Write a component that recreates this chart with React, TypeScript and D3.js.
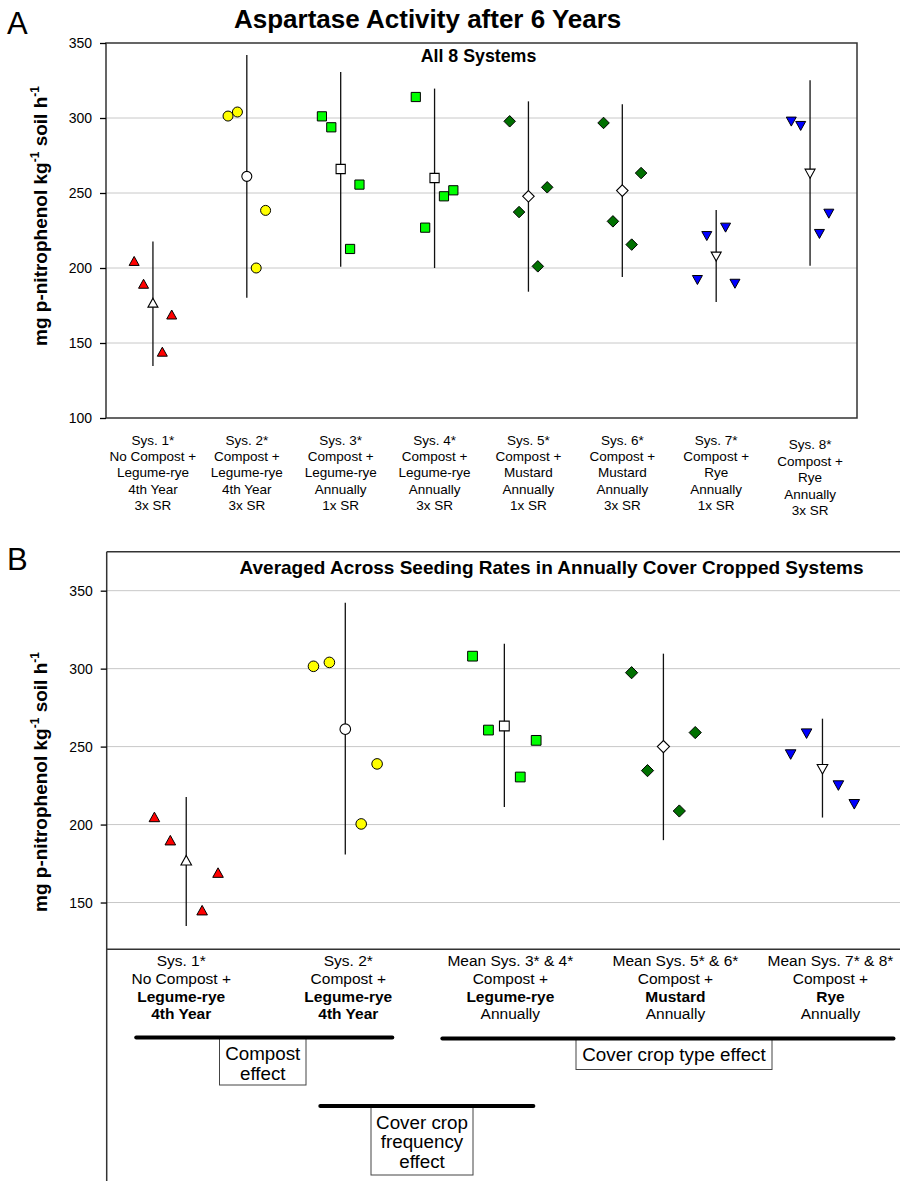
import React, { useRef, useEffect } from "react";
import * as d3 from "d3";

const FONT = "'Liberation Sans', Arial, Helvetica, sans-serif";

// ---- panel A: all 8 systems ----
const systemsA = ["Sys1", "Sys2", "Sys3", "Sys4", "Sys5", "Sys6", "Sys7", "Sys8"];
const labelsA = [
  ["Sys. 1*", "No Compost +", "Legume-rye", "4th Year", "3x SR"],
  ["Sys. 2*", "Compost +", "Legume-rye", "4th Year", "3x SR"],
  ["Sys. 3*", "Compost +", "Legume-rye", "Annually", "1x SR"],
  ["Sys. 4*", "Compost +", "Legume-rye", "Annually", "3x SR"],
  ["Sys. 5*", "Compost +", "Mustard", "Annually", "1x SR"],
  ["Sys. 6*", "Compost +", "Mustard", "Annually", "3x SR"],
  ["Sys. 7*", "Compost +", "Rye", "Annually", "1x SR"],
  ["Sys. 8*", "Compost +", "Rye", "Annually", "3x SR"],
];
// four field replicates per system
const repsA = [
  [204.7, 189.5, 144.2, 169.0],
  [301.3, 304.0, 200.0, 238.4],
  [301.1, 293.8, 212.7, 255.6],
  [314.0, 226.9, 247.8, 251.8],
  [297.8, 237.3, 201.1, 253.8],
  [296.7, 231.1, 215.6, 263.3],
  [192.0, 221.3, 226.9, 189.5],
  [297.6, 294.7, 222.7, 236.2],
];
const meansA = [176.9, 261.1, 266.0, 260.0, 247.8, 251.6, 207.6, 262.9];
const lowA = [134.7, 180.2, 200.9, 200.0, 184.2, 194.0, 177.3, 201.5];
const highA = [217.6, 342.0, 330.7, 319.6, 311.1, 309.1, 238.7, 325.1];
const shapesA = ["up", "circle", "square", "square", "diamond", "diamond", "down", "down"];
const colorsA = ["#ff0000", "#ffff00", "#00ff00", "#00ff00", "#007000", "#007000", "#0000ff", "#0000ff"];
const ticksA = [100, 150, 200, 250, 300, 350];

// ---- panel B: averaged across seeding rates ----
const groupsB = ["Sys1", "Sys2", "Sys34", "Sys56", "Sys78"];
const labelsB = [
  [["Sys. 1*", false], ["No Compost +", false], ["Legume-rye", true], ["4th Year", true]],
  [["Sys. 2*", false], ["Compost +", false], ["Legume-rye", true], ["4th Year", true]],
  [["Mean Sys. 3* & 4*", false], ["Compost +", false], ["Legume-rye", true], ["Annually", false]],
  [["Mean Sys. 5* & 6*", false], ["Compost +", false], ["Mustard", true], ["Annually", false]],
  [["Mean Sys. 7* & 8*", false], ["Compost +", false], ["Rye", true], ["Annually", false]],
];
const repsB = [
  [204.9, 190.0, 145.1, 169.2],
  [301.5, 304.0, 200.4, 238.9],
  [308.0, 260.6, 230.5, 254.0],
  [297.4, 234.6, 208.7, 259.0],
  [244.9, 258.3, 225.0, 213.0],
];
const meansB = [177.1, 261.2, 263.2, 250.0, 235.5];
const lowB = [135.0, 180.8, 211.3, 190.0, 204.5];
const highB = [217.7, 342.3, 315.9, 309.6, 267.9];
const shapesB = ["up", "circle", "square", "diamond", "down"];
const colorsB = ["#ff0000", "#ffff00", "#00ff00", "#007000", "#0000ff"];
const ticksB = [150, 200, 250, 300, 350];

// contrasts drawn under panel B
const effects = [
  { lines: ["Compost", "effect"], from: "Sys1", to: "Sys2" },
  { lines: ["Cover crop type effect"], from: "Sys34", to: "Sys78" },
  { lines: ["Cover crop", "frequency", "effect"], from: "Sys2", to: "Sys34" },
];

function shapePath(kind, s) {
  if (kind === "circle") {
    return `M${-s},0a${s},${s} 0 1,0 ${2 * s},0a${s},${s} 0 1,0 ${-2 * s},0Z`;
  }
  if (kind === "up") return `M0,${-s * 0.9}L${s},${s * 0.9}L${-s},${s * 0.9}Z`;
  if (kind === "down") return `M0,${s * 0.9}L${s},${-s * 0.9}L${-s},${-s * 0.9}Z`;
  if (kind === "square") {
    const h = s * 0.92;
    return `M${-h},${-h}H${h}V${h}H${-h}Z`;
  }
  const d = s * 1.15;
  return `M0,${-d}L${d},0L0,${d}L${-d},0Z`;
}

function yLabel(g, x, y) {
  const t = g.append("text")
    .attr("transform", `translate(${x},${y}) rotate(-90)`)
    .attr("text-anchor", "middle")
    .attr("font-family", FONT)
    .attr("font-weight", "bold")
    .attr("font-size", 19);
  t.append("tspan").text("mg p-nitrophenol kg");
  t.append("tspan").attr("font-size", 12).attr("dy", -8).text("-1");
  t.append("tspan").attr("dy", 8).text("  soil h");
  t.append("tspan").attr("font-size", 12).attr("dy", -8).text("-1");
}

function drawPoints(g, x, y, ids, reps, means, low, high, shapes, colors, size) {
  const step = x.step();
  const offsets = [-0.2, -0.1, 0.1, 0.2];
  ids.forEach((id, i) => {
    const cx = x(id) + x.bandwidth() / 2;
    g.append("line")
      .attr("x1", cx).attr("x2", cx)
      .attr("y1", y(low[i])).attr("y2", y(high[i]))
      .attr("stroke", "#111").attr("stroke-width", 1.3);
    reps[i].forEach((v, j) => {
      g.append("path")
        .attr("d", shapePath(shapes[i], size))
        .attr("transform", `translate(${cx + offsets[j] * step},${y(v)})`)
        .attr("fill", colors[i])
        .attr("stroke", "#000")
        .attr("stroke-width", 1);
    });
    g.append("path")
      .attr("d", shapePath(shapes[i], size))
      .attr("transform", `translate(${cx},${y(means[i])})`)
      .attr("fill", "#fff")
      .attr("stroke", "#000")
      .attr("stroke-width", 1.1);
  });
}

function drawGrid(g, y, ticks, x0, x1) {
  g.selectAll(null)
    .data(ticks)
    .join("line")
    .attr("x1", x0).attr("x2", x1)
    .attr("y1", (d) => y(d)).attr("y2", (d) => y(d))
    .attr("stroke", "#c8c8c8").attr("stroke-width", 1);
}

function drawAxis(g, y, ticks, x0) {
  const ax = g.append("g")
    .attr("transform", `translate(${x0},0)`)
    .call(d3.axisLeft(y).tickValues(ticks).tickSize(6).tickPadding(8));
  ax.select(".domain").remove();
  ax.selectAll(".tick line").attr("stroke", "#000").attr("stroke-width", 1.3);
  ax.selectAll(".tick text")
    .attr("font-family", FONT)
    .attr("font-size", 14)
    .attr("fill", "#000");
}

export default function App() {
  const svgRef = useRef(null);

  useEffect(() => {
    const svg = d3.select(svgRef.current);
    svg.selectAll("*").remove();

    // ---------- panel A ----------
    const xA = d3.scaleBand().domain(systemsA).range([106, 857]);
    const yA = d3.scaleLinear().domain([100, 350]).range([418, 43]);
    const gA = svg.append("g");

    gA.append("text").attr("x", 7).attr("y", 34)
      .attr("font-family", FONT).attr("font-size", 31).text("A");
    gA.append("text").attr("x", 234).attr("y", 28)
      .attr("font-family", FONT)
      .attr("font-weight", "bold").attr("font-size", 26)
      .text("Aspartase Activity after 6 Years");

    drawGrid(gA, yA, [150, 200, 250, 300], 106, 857);
    gA.append("rect")
      .attr("x", 106).attr("y", yA(350))
      .attr("width", 857 - 106).attr("height", yA(100) - yA(350))
      .attr("fill", "none").attr("stroke", "#333").attr("stroke-width", 1.5);
    drawAxis(gA, yA, ticksA, 106);

    gA.append("text").attr("x", 478.5).attr("y", 62)
      .attr("text-anchor", "middle").attr("font-family", FONT)
      .attr("font-weight", "bold").attr("font-size", 17.8)
      .text("All 8 Systems");

    yLabel(gA, 47, 216);
    drawPoints(gA, xA, yA, systemsA, repsA, meansA, lowA, highA, shapesA, colorsA, 5);

    systemsA.forEach((id, i) => {
      const cx = xA(id) + xA.bandwidth() / 2;
      const last = i === systemsA.length - 1;
      const top = last ? 449 : 445;
      const gap = last ? 16.6 : 16.2;
      const t = gA.append("text")
        .attr("text-anchor", "middle")
        .attr("font-family", FONT)
        .attr("font-size", 13.5);
      labelsA[i].forEach((line, k) => {
        t.append("tspan").attr("x", cx).attr("y", top + k * gap).text(line);
      });
    });

    // ---------- panel B ----------
    const xB = d3.scaleBand().domain(groupsB).range([106.7, 902]);
    const yB = d3.scaleLinear().domain([120, 375]).range([949.3, 551.7]);
    const gB = svg.append("g");
    const right = 900;

    gB.append("text").attr("x", 7).attr("y", 570)
      .attr("font-family", FONT).attr("font-size", 31).text("B");

    drawGrid(gB, yB, ticksB, 106.7, right);
    gB.append("line").attr("x1", 106.7).attr("x2", right)
      .attr("y1", yB(375)).attr("y2", yB(375))
      .attr("stroke", "#333").attr("stroke-width", 1.5);
    gB.append("line").attr("x1", 106.7).attr("x2", right)
      .attr("y1", yB(120)).attr("y2", yB(120))
      .attr("stroke", "#333").attr("stroke-width", 1.5);
    gB.append("line").attr("x1", 106.7).attr("x2", 106.7)
      .attr("y1", yB(375)).attr("y2", 1181)
      .attr("stroke", "#333").attr("stroke-width", 1.5);
    drawAxis(gB, yB, ticksB, 106.7);

    gB.append("text").attr("x", 551.5).attr("y", 574)
      .attr("text-anchor", "middle").attr("font-family", FONT)
      .attr("font-weight", "bold").attr("font-size", 19)
      .text("Averaged Across Seeding Rates in Annually Cover Cropped Systems");

    yLabel(gB, 47, 782);
    drawPoints(gB, xB, yB, groupsB, repsB, meansB, lowB, highB, shapesB, colorsB, 5.3);

    const nudgeB = [-5, 3, 6, 12, 8];
    groupsB.forEach((id, i) => {
      const cx = xB(id) + xB.bandwidth() / 2 + nudgeB[i];
      const t = gB.append("text")
        .attr("text-anchor", "middle")
        .attr("font-family", FONT)
        .attr("font-size", 15.5);
      labelsB[i].forEach(([line, bold], k) => {
        t.append("tspan").attr("x", cx).attr("y", 966 + k * 17.8)
          .attr("font-weight", bold ? "bold" : "normal").text(line);
      });
    });

    // contrast brackets
    const mid = (id) => xB(id) + xB.bandwidth() / 2;
    const bracket = [
      { x1: mid("Sys1") - 50, x2: mid("Sys2") + 47, y: 1037.5, bx: 219.5, bw: 86.5, bh: 47.5 },
      { x1: mid("Sys34") - 62, x2: mid("Sys78") + 71, y: 1038.5, bx: 576, bw: 196, bh: 31 },
      { x1: mid("Sys2") - 25, x2: mid("Sys34") + 29, y: 1106, bx: 371, bw: 102, bh: 69 },
    ];
    effects.forEach((e, i) => {
      const b = bracket[i];
      gB.append("rect")
        .attr("x", b.bx).attr("y", b.y).attr("width", b.bw).attr("height", b.bh)
        .attr("fill", "#fff").attr("stroke", "#444").attr("stroke-width", 1);
      gB.append("line")
        .attr("x1", b.x1).attr("x2", b.x2).attr("y1", b.y).attr("y2", b.y)
        .attr("stroke", "#000").attr("stroke-width", 4).attr("stroke-linecap", "round");
      const t = gB.append("text")
        .attr("text-anchor", "middle")
        .attr("font-family", FONT)
        .attr("font-size", 18.8);
      e.lines.forEach((line, k) => {
        t.append("tspan").attr("x", b.bx + b.bw / 2)
          .attr("y", b.y + 22.5 + k * 19.8).text(line);
      });
    });
  }, []);

  return (
    <svg
      ref={svgRef}
      width={900}
      height={1181}
      style={{ position: "absolute", left: 0, top: 0, background: "#fff" }}
    />
  );
}
